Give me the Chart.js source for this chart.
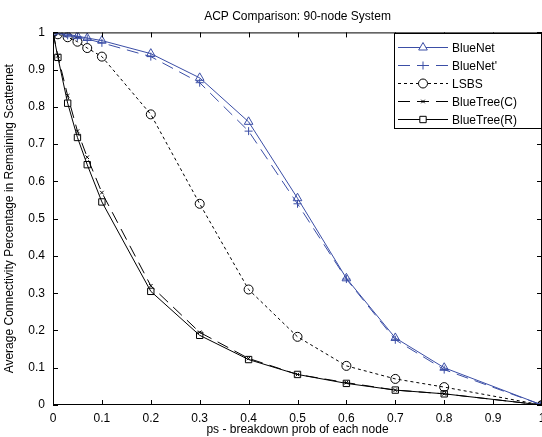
<!DOCTYPE html>
<html>
<head>
<meta charset="utf-8">
<script src="https://cdn.jsdelivr.net/npm/chart.js@4/dist/chart.umd.min.js"></script>
<style>
    body { margin: 0; background: #fff; }
    #wrap { width: 542px; height: 437px; }
</style>
</head>
<body>
<div id="wrap"><canvas id="acpChart"></canvas></div>
<script>
// x values: breakdown probability of each node
const ps = [0, 0.01, 0.03, 0.05, 0.07, 0.1, 0.2, 0.3, 0.4, 0.5, 0.6, 0.7, 0.8, 1.0];
const psBlueNet = [0, 0.03, 0.05, 0.07, 0.1, 0.2, 0.3, 0.4, 0.5, 0.6, 0.7, 0.8, 1.0];

const blueNet      = [1.0, 0.995, 0.99, 0.985, 0.978, 0.943, 0.878, 0.76, 0.555, 0.34, 0.18, 0.10, 0];
const blueNetPrime = [1.0, 0.992, 0.988, 0.982, 0.972, 0.935, 0.865, 0.735, 0.54, 0.338, 0.175, 0.095, 0];
const lsbs         = [1.0, 0.995, 0.987, 0.975, 0.958, 0.935, 0.78, 0.54, 0.31, 0.183, 0.105, 0.07, 0.048, 0];
const blueTreeC    = [1.0, 0.937, 0.83, 0.735, 0.665, 0.57, 0.32, 0.195, 0.125, 0.082, 0.06, 0.04, 0.03, 0];
const blueTreeR    = [1.0, 0.933, 0.81, 0.718, 0.645, 0.545, 0.305, 0.187, 0.122, 0.082, 0.058, 0.04, 0.03, 0];

const xTicks = [0, 0.1, 0.2, 0.3, 0.4, 0.5, 0.6, 0.7, 0.8, 0.9, 1];
const yTicks = [0, 0.1, 0.2, 0.3, 0.4, 0.5, 0.6, 0.7, 0.8, 0.9, 1];

const BLUE = '#3b4ea6';
const FONT = "'Liberation Sans', Arial, Helvetica, sans-serif";

function pts(xs, ys) {
    return ys.map((y, i) => ({x: xs[i], y: y}));
}

function series(label, xs, ys, color, style, dash, radius) {
    return {
        label: label,
        data: pts(xs, ys),
        borderColor: color,
        backgroundColor: 'rgba(0,0,0,0)',
        borderWidth: 1,
        borderDash: dash,
        pointStyle: style,
        pointRadius: radius,
        pointBorderColor: color,
        pointBackgroundColor: 'rgba(0,0,0,0)',
        pointBorderWidth: 1,
        tension: 0
    };
}

// frame, inward ticks and the legend box, drawn like the matlab figure
const framePlugin = {
    id: 'frame',
    afterDraw(c) {
        const ctx = c.ctx;
        const a = c.chartArea;
        const xs = c.scales.x, ys = c.scales.y;
        ctx.save();
        ctx.strokeStyle = '#000';
        ctx.lineWidth = 1;
        ctx.strokeRect(a.left + 0.5, a.top + 0.5, a.right - a.left - 1, a.bottom - a.top - 1);
        ctx.beginPath();
        xTicks.forEach(v => {
            const px = Math.round(xs.getPixelForValue(v)) + 0.5;
            ctx.moveTo(px, a.bottom); ctx.lineTo(px, a.bottom - 5);
            ctx.moveTo(px, a.top); ctx.lineTo(px, a.top + 5);
        });
        yTicks.forEach(v => {
            const py = Math.round(ys.getPixelForValue(v)) + 0.5;
            ctx.moveTo(a.left, py); ctx.lineTo(a.left + 5, py);
            ctx.moveTo(a.right, py); ctx.lineTo(a.right - 5, py);
        });
        ctx.stroke();

        // legend
        const lx = 394.5, ly = 33.5, lw = 147, lh = 95;
        ctx.fillStyle = '#fff';
        ctx.fillRect(lx, ly, lw, lh);
        ctx.strokeRect(lx, ly, lw, lh);
        ctx.font = '12px ' + FONT;
        ctx.textBaseline = 'middle';
        c.data.datasets.forEach((ds, i) => {
            const y = 47 + i * 18 + 0.5;
            ctx.strokeStyle = ds.borderColor;
            ctx.setLineDash(ds.borderDash);
            ctx.beginPath();
            ctx.moveTo(398, y); ctx.lineTo(448, y);
            ctx.stroke();
            ctx.setLineDash([]);
            ctx.fillStyle = '#fff';
            Chart.helpers.drawPoint(ctx, {
                pointStyle: ds.pointStyle,
                radius: ds.pointRadius,
                borderWidth: 1
            }, 423, y);
            ctx.fillStyle = '#000';
            ctx.fillText(ds.label, 452, y + 1);
        });
        ctx.restore();
    }
};

new Chart(document.getElementById('acpChart'), {
    type: 'line',
    data: {
        datasets: [
            series('BlueNet', psBlueNet, blueNet, BLUE, 'triangle', [], 5),
            series("BlueNet'", psBlueNet, blueNetPrime, BLUE, 'cross', [12, 7], 4),
            series('LSBS', ps, lsbs, '#000', 'circle', [3, 3], 4.5),
            series('BlueTree(C)', ps, blueTreeC, '#000', 'crossRot', [12, 7], 2.5),
            series('BlueTree(R)', ps, blueTreeR, '#000', 'rect', [], 4.5)
        ]
    },
    options: {
        responsive: true,
        maintainAspectRatio: false,
        animation: false,
        layout: {autoPadding: false, padding: {top: 0, right: 0, left: 0, bottom: 0}},
        plugins: {
            legend: {display: false},
            tooltip: {enabled: false},
            title: {
                display: true,
                fullSize: false,
                text: 'ACP Comparison: 90-node System',
                color: '#000',
                font: {family: FONT, size: 12, weight: 'normal'},
                padding: {top: 9, bottom: 9}
            }
        },
        scales: {
            x: {
                type: 'linear',
                min: 0,
                max: 1,
                afterBuildTicks: s => { s.ticks = xTicks.map(v => ({value: v})); },
                afterFit: s => { s.height = 32; s.paddingLeft = 0; s.paddingRight = 0; },
                grid: {display: false, drawTicks: false},
                border: {display: false},
                ticks: {
                    color: '#000',
                    padding: 6,
                    maxRotation: 0,
                    font: {family: FONT, size: 12},
                    callback: v => String(v)
                },
                title: {
                    display: true,
                    text: 'ps - breakdown prob of each node',
                    color: '#000',
                    font: {family: FONT, size: 12},
                    padding: {top: 0, bottom: 0}
                }
            },
            y: {
                min: 0,
                max: 1,
                afterBuildTicks: s => { s.ticks = yTicks.map(v => ({value: v})); },
                afterFit: s => { s.width = 53; s.paddingTop = 0; s.paddingBottom = 0; },
                grid: {display: false, drawTicks: false},
                border: {display: false},
                ticks: {
                    color: '#000',
                    padding: 8,
                    font: {family: FONT, size: 12},
                    callback: v => String(v)
                },
                title: {
                    display: true,
                    text: 'Average Connectivity Percentage in Remaining Scatternet',
                    color: '#000',
                    font: {family: FONT, size: 12},
                    padding: {top: 2, bottom: 0}
                }
            }
        }
    },
    plugins: [framePlugin]
});
</script>
</body>
</html>
